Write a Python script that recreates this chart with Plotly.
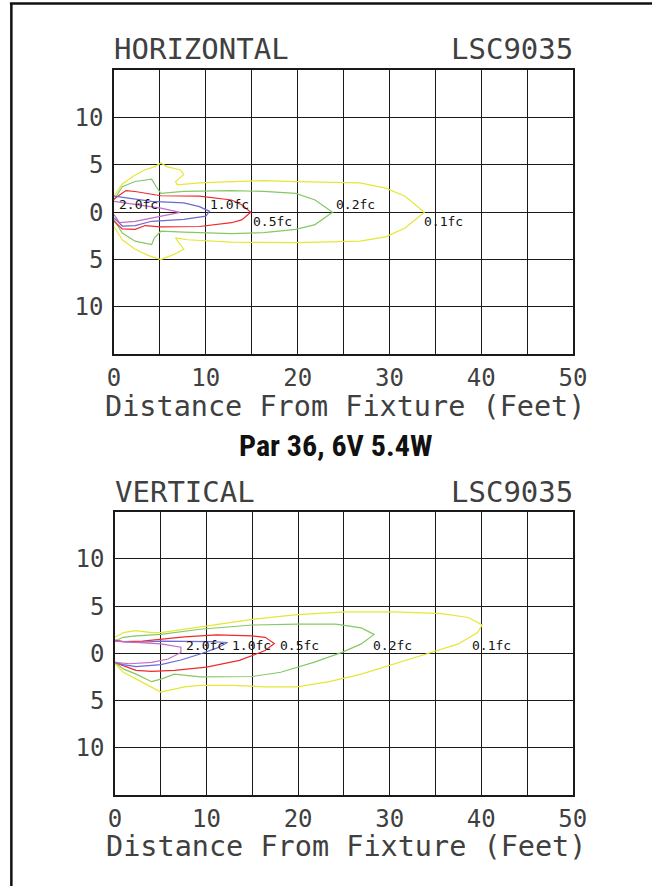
import plotly.graph_objects as go

# ---------------- data ----------------
LEVELS = ["0.1fc", "0.2fc", "0.5fc", "1.0fc", "2.0fc"]
COLORS = ["#e6e636", "#86c866", "#f02a2a", "#6a6ad2", "#c46cc4"]

# Horizontal chart isolines (distance ft, lateral ft)
H01_X = [0, 0.9, 2.3, 3.4, 4.4, 5.1, 5.8, 7.2, 7.6, 6.7, 6.9, 9.3, 12.8, 16.3, 19.8, 23.3, 26.8, 29.6, 31.7, 33.8,
         31.7, 29.6, 26.8, 19.8, 12.8, 8.0, 6.7, 7.2, 7.6, 6.5, 5.1, 3.7, 2.3, 0.9, 0]
H01_Y = [1.7, 3.0, 3.95, 4.5, 4.8, 5.2, 4.8, 4.5, 4.0, 3.25, 2.9, 3.1, 3.25, 3.35, 3.25, 3.2, 3.1, 2.55, 1.7, 0,
         -1.65, -2.6, -3.05, -3.2, -3.15, -2.9, -2.7, -3.4, -3.9, -4.45, -5.0, -4.55, -3.9, -2.9, -1.5]
H02_X = [0, 0.9, 2.3, 4.1, 4.6, 5.1, 7.6, 12.8, 16.3, 19.8, 21.9, 23.8, 21.9, 19.8, 16.3, 12.8, 7.6, 5.1, 4.4, 4.1,
         2.3, 0.9, 0]
H02_Y = [1.3, 2.7, 3.25, 3.5, 2.7, 2.0, 2.2, 2.3, 2.2, 2.0, 1.3, 0, -1.3, -1.8, -2.15, -2.25, -2.1, -2.0, -2.7, -3.4,
         -3.05, -2.2, -0.8]
H05_X = [0, 1.3, 2.3, 3.4, 5.1, 9.3, 12.8, 13.9, 14.9, 13.9, 12.8, 9.3, 5.1, 3.4, 2.3, 0.9, 0]
H05_Y = [1.4, 2.3, 2.2, 2.0, 1.75, 1.7, 1.3, 0.8, 0, -0.8, -1.1, -1.5, -1.55, -1.4, -1.8, -1.75, -0.95]
H10_X = [0, 1.6, 4.1, 7.6, 9.3, 10.4, 10.0, 7.6, 4.1, 2.3, 0.9, 0]
H10_Y = [1.7, 1.5, 1.15, 1.0, 0.6, 0.1, -0.4, -0.75, -0.95, -1.4, -1.45, -0.6]
H20_X = [0, 2.3, 5.1, 7.2, 5.1, 2.3, 0.6, 0]
H20_Y = [1.15, 0.8, 0.45, 0, -0.4, -0.95, -1.1, -0.25]

# Vertical chart isolines
V01_X = [0, 0.9, 2.3, 4.0, 5.0, 7.6, 11.1, 15.0, 19.9, 25.2, 30.5, 35.7, 38.6, 40.1, 39.6, 37.5, 34.0, 30.5, 26.9,
         23.4, 19.9, 16.4, 12.9, 9.3, 7.6, 5.0, 4.0, 2.3, 0.9, 0]
V01_Y = [1.7, 2.2, 2.4, 2.2, 2.2, 2.55, 3.1, 3.6, 4.1, 4.4, 4.4, 4.2, 3.8, 3.0, 2.2, 1.0, -0.07, -1.1, -2.2,
         -3.0, -3.55, -3.55, -3.4, -3.4, -3.55, -4.1, -3.55, -2.7, -2.0, -1.1]
V02_X = [0, 0.9, 2.3, 5.0, 9.3, 15.0, 19.9, 24.1, 26.9, 28.3, 26.9, 24.8, 21.7, 18.1, 15.0, 9.3, 6.5, 5.1, 4.0,
         2.3, 0.9, 0]
V02_Y = [1.3, 1.7, 1.85, 2.0, 2.55, 3.0, 3.1, 3.1, 2.7, 2.0, 1.0, 0.1, -0.95, -2.0, -2.45, -2.5, -2.2, -2.7, -3.0,
         -2.2, -1.65, -0.95]
V05_X = [0, 0.9, 3.0, 5.0, 7.6, 11.1, 15.0, 16.4, 17.4, 16.4, 13.6, 10.0, 6.5, 4.0, 2.3, 0.9, 0]
V05_Y = [1.4, 1.25, 1.3, 1.5, 1.75, 1.95, 1.85, 1.7, 1.05, 0.3, -0.75, -1.45, -1.8, -1.9, -1.8, -1.3, -0.95]
V10_X = [0, 2.3, 5.0, 7.6, 10.4, 12.3, 11.1, 9.3, 7.2, 5.0, 2.3, 0.9, 0]
V10_Y = [1.3, 1.15, 1.3, 1.3, 1.25, 1.15, 0.55, -0.07, -0.7, -1.2, -1.4, -1.2, -0.95]
V20_X = [0, 2.3, 5.0, 7.2, 7.2, 5.8, 4.0, 1.6, 0]
V20_Y = [1.3, 1.15, 1.0, 0.65, 0.1, -0.6, -0.95, -1.1, -0.95]

# label anchor points (left edge x, y) per level
H_LABEL_X = [33.5, 24.0, 14.9, 10.2, 0.3]
H_LABEL_Y = [-0.95, 0.87, -0.95, 0.87, 0.87]
V_LABEL_X = [38.8, 28.0, 17.85, 12.6, 7.5]
V_LABEL_Y = [0.87, 0.87, 0.87, 0.87, 0.87]

X_TICKS = [0, 5, 10, 15, 20, 25, 30, 35, 40, 45, 50]
X_TICKTEXT = ["0", "", "10", "", "20", "", "30", "", "40", "", "50"]
Y_TICKS = [-15, -10, -5, 0, 5, 10, 15]
Y_TICKTEXT = ["", "10", "5", "0", "5", "10", ""]

# ---------------- figure ----------------
W, H = 666, 886
MONO = "DejaVu Sans Mono"
TXT = "#404040"

fig = go.Figure()

h_sets = [(H01_X, H01_Y), (H02_X, H02_Y), (H05_X, H05_Y), (H10_X, H10_Y), (H20_X, H20_Y)]
v_sets = [(V01_X, V01_Y), (V02_X, V02_Y), (V05_X, V05_Y), (V10_X, V10_Y), (V20_X, V20_Y)]

for (xs, ys), col, name in zip(h_sets, COLORS, LEVELS):
    fig.add_trace(go.Scatter(x=xs, y=ys, mode="lines", line=dict(color=col, width=1.2),
                             name=name, xaxis="x", yaxis="y", showlegend=False, hoverinfo="skip"))
for (xs, ys), col, name in zip(v_sets, COLORS, LEVELS):
    fig.add_trace(go.Scatter(x=xs, y=ys, mode="lines", line=dict(color=col, width=1.2),
                             name=name, xaxis="x2", yaxis="y2", showlegend=False, hoverinfo="skip"))

annotations = []
for lx, ly, name in zip(H_LABEL_X, H_LABEL_Y, LEVELS):
    annotations.append(dict(x=lx, y=ly, xref="x", yref="y", text=name, showarrow=False,
                            xanchor="left", yanchor="middle", font=dict(family=MONO, size=13, color="#111")))
for lx, ly, name in zip(V_LABEL_X, V_LABEL_Y, LEVELS):
    annotations.append(dict(x=lx, y=ly, xref="x2", yref="y2", text=name, showarrow=False,
                            xanchor="left", yanchor="middle", font=dict(family=MONO, size=13, color="#111")))


def py(p):
    return 1 - p / H


def px(p):
    return p / W


title_font = dict(family=MONO, size=29, color=TXT)
axis_title_font = dict(family=MONO, size=28.5, color=TXT)
annotations += [
    dict(x=px(108), y=py(49), xref="paper", yref="paper", text="HORIZONTAL", showarrow=False,
         xanchor="left", yanchor="middle", font=title_font),
    dict(x=px(587), y=py(49), xref="paper", yref="paper", text="LSC9035", showarrow=False,
         xanchor="right", yanchor="middle", font=title_font),
    dict(x=px(349), y=py(407), xref="paper", yref="paper", text="Distance From Fixture (Feet)", showarrow=False,
         xanchor="center", yanchor="middle", font=axis_title_font),
    dict(x=px(339), y=py(446), xref="paper", yref="paper", text="<b>Par 36, 6V 5.4W</b>", showarrow=False,
         xanchor="center", yanchor="middle",
         font=dict(family="Liberation Sans Narrow, Roboto Condensed, Arial Narrow, Roboto, sans-serif",
                   size=30, color="#111")),
    dict(x=px(109), y=py(492), xref="paper", yref="paper", text="VERTICAL", showarrow=False,
         xanchor="left", yanchor="middle", font=title_font),
    dict(x=px(587), y=py(492), xref="paper", yref="paper", text="LSC9035", showarrow=False,
         xanchor="right", yanchor="middle", font=title_font),
    dict(x=px(350), y=py(846), xref="paper", yref="paper", text="Distance From Fixture (Feet)", showarrow=False,
         xanchor="center", yanchor="middle", font=axis_title_font),
]

axis_common = dict(showgrid=True, gridcolor="#1a1a1a", gridwidth=1.4, zeroline=True, zerolinecolor="#1a1a1a",
                   zerolinewidth=1.4, showline=True, linecolor="#1a1a1a", linewidth=1.6, mirror=True,
                   ticks="", tickfont=dict(family=MONO, size=24, color=TXT), fixedrange=True)

xa = dict(axis_common, range=[0, 50], tickmode="array", tickvals=X_TICKS, ticktext=X_TICKTEXT,
          ticklabelstandoff=1)
ya = dict(axis_common, range=[-15, 15], tickmode="array", tickvals=Y_TICKS, ticktext=Y_TICKTEXT,
          ticklabelstandoff=4)

fig.update_layout(
    width=W, height=H, margin=dict(l=0, r=0, t=0, b=0),
    paper_bgcolor="white", plot_bgcolor="white", showlegend=False,
    xaxis=dict(xa, domain=[px(110.5), px(584.5)], anchor="y"),
    yaxis=dict(ya, domain=[py(354.3), py(70.3)], anchor="x"),
    xaxis2=dict(xa, domain=[px(111.5), px(584.2)], anchor="y2"),
    yaxis2=dict(ya, domain=[py(795), py(511.7)], anchor="x2"),
    annotations=annotations,
    shapes=[
        dict(type="line", xref="paper", yref="paper", x0=px(3), x1=1, y0=py(3.5), y1=py(3.5),
             line=dict(color="#111", width=2.5)),
        dict(type="line", xref="paper", yref="paper", x0=px(4.5), x1=px(4.5), y0=0, y1=py(3),
             line=dict(color="#111", width=2.5)),
    ],
)

fig.write_html(
    "out.html",
    config={"responsive": False, "displayModeBar": False},
    post_script="document.body.style.margin='0';document.body.style.padding='0';"
                "document.body.style.overflow='hidden';",
)
